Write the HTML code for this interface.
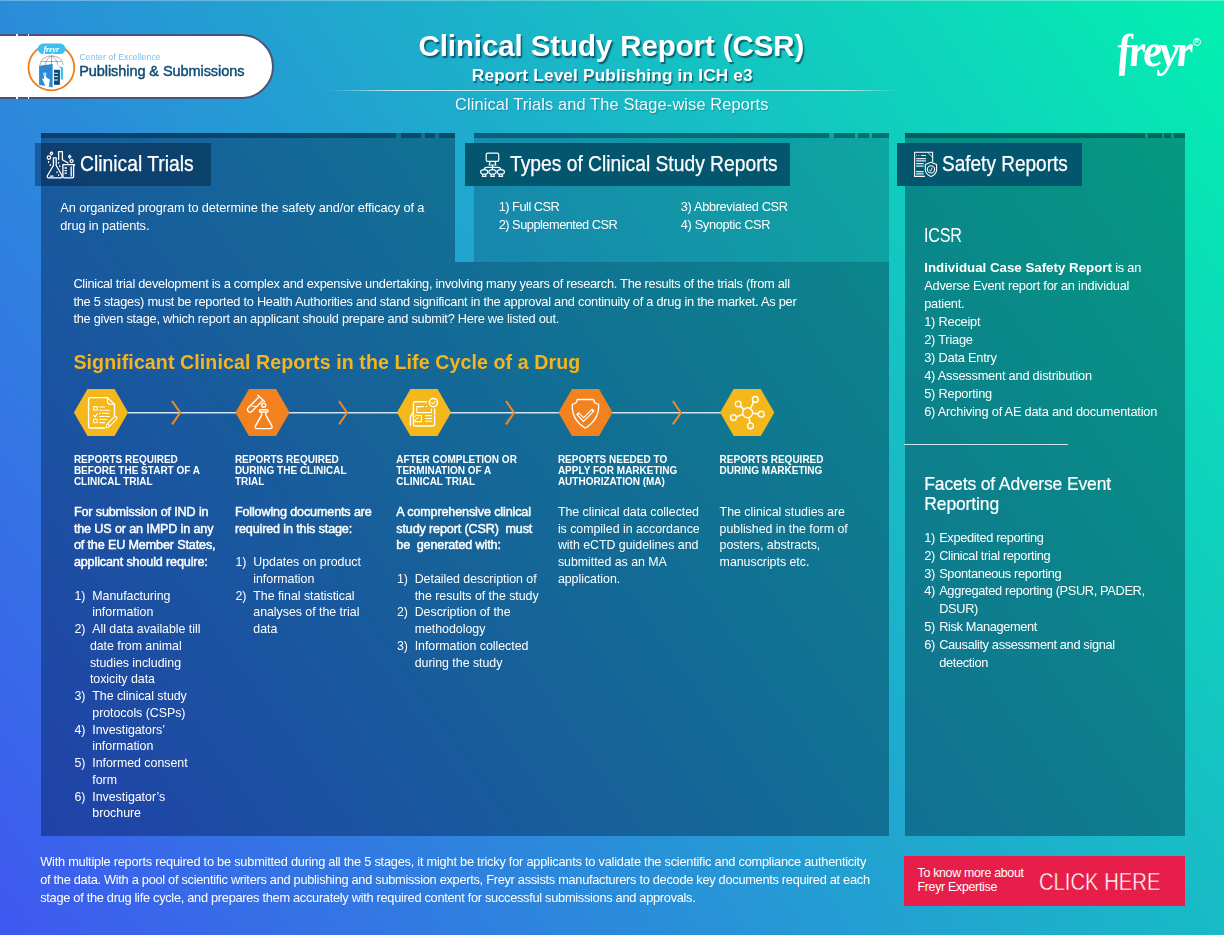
<!DOCTYPE html>
<html><head><meta charset="utf-8">
<style>
html,body{margin:0;padding:0}
body{width:1224px;height:935px;overflow:hidden;font-family:"Liberation Sans",Arial,sans-serif;color:#fff}
#pg{position:relative;width:1224px;height:935px;overflow:hidden;background:linear-gradient(54.8deg,#3f58f0 0%,#03f0b0 100%)}
.a{position:absolute}
.m1{position:absolute;background:#8aabb6;mix-blend-mode:multiply}
.m2{position:absolute;background:#bccfd6;mix-blend-mode:multiply}
.t{position:absolute;white-space:nowrap}
.hd{position:absolute;background:#04566f}
.ch{position:absolute;top:455.4px;font-size:10px;line-height:10.95px;font-weight:700;letter-spacing:0;white-space:nowrap}
.cb{position:absolute;top:503.9px;font-size:12.4px;line-height:16.75px;letter-spacing:-.03px;white-space:nowrap}
.cb b{font-weight:400;font-size:12.6px;letter-spacing:-.14px;-webkit-text-stroke:.45px #fff}
.li{position:relative;padding-left:18.4px}
.li i{font-style:normal;position:absolute;left:.6px}
.bl{height:16.75px}
.rl{position:relative;padding-left:15px}
.rl i{font-style:normal;position:absolute;left:0}
</style></head><body><div id="pg">
<!-- top light line -->
<div class="a" style="left:0;top:0;width:1224px;height:1px;background:rgba(255,255,255,.3)"></div>

<!-- panels (multiply layers) -->
<div class="m1" style="left:40.5px;top:133px;width:414.5px;height:129px"></div>
<div class="m1" style="left:40.5px;top:262px;width:848.5px;height:573.5px"></div>
<div class="m2" style="left:474px;top:133px;width:415px;height:129px"></div>
<div class="m1" style="left:905px;top:133px;width:280px;height:702.5px"></div>
<!-- top strips -->
<div class="m1" style="left:40.5px;top:133px;width:355.5px;height:4.7px"></div>
<div class="m1" style="left:401px;top:133px;width:20.3px;height:4.7px"></div>
<div class="m1" style="left:424.9px;top:133px;width:10.4px;height:4.7px"></div>
<div class="m1" style="left:438.9px;top:133px;width:16.1px;height:4.7px"></div>
<div class="m1" style="left:474px;top:133px;width:355.3px;height:4.7px"></div>
<div class="m1" style="left:834.1px;top:133px;width:20.7px;height:4.7px"></div>
<div class="m1" style="left:858px;top:133px;width:10.9px;height:4.7px"></div>
<div class="m1" style="left:871.9px;top:133px;width:16.9px;height:4.7px"></div>
<div class="m1" style="left:905px;top:133px;width:240px;height:4.7px"></div>
<div class="m1" style="left:1148px;top:133px;width:14px;height:4.7px"></div>
<div class="m1" style="left:1164px;top:133px;width:7.4px;height:4.7px"></div>
<div class="m1" style="left:1173.5px;top:133px;width:11.5px;height:4.7px"></div>
<!-- headers -->
<div class="m1" style="left:35.2px;top:143.1px;width:176.3px;height:42.8px"></div>
<div class="hd" style="left:465px;top:143px;width:324.5px;height:42.5px"></div>
<div class="hd" style="left:896.5px;top:143px;width:185.5px;height:42.8px"></div>

<!-- logo pill -->
<div class="a" style="left:-40px;top:34px;width:309.5px;height:61px;background:#fff;border:2px solid #4c5279;border-radius:0 32.5px 32.5px 0"></div>
<div class="a" style="left:16.1px;top:34px;width:1.9px;height:2px;background:#fff"></div>
<div class="a" style="left:27.8px;top:34px;width:1.7px;height:2px;background:#fff"></div>
<div class="a" style="left:16.1px;top:97px;width:1.9px;height:2px;background:#fff"></div>
<div class="a" style="left:27.8px;top:97px;width:1.7px;height:2px;background:#fff"></div>
<div class="t" style="left:79.5px;top:51.95px;font-size:8.8px;line-height:10px;color:#7cc0ec">Center of Excellence</div>
<div class="t" style="left:79.2px;top:62.5px;font-size:14.5px;line-height:16px;letter-spacing:-.07px;color:#0d4d76;-webkit-text-stroke:.45px #0d4d76">Publishing &amp; Submissions</div>

<svg class="a" style="left:25px;top:40px" width="54" height="54" viewBox="25 40 54 54">
 <circle cx="51.4" cy="67.5" r="22.9" fill="none" stroke="#f07c14" stroke-width="1.8"/>
 <rect x="37.9" y="43.5" width="27.5" height="10.4" rx="5.2" fill="#3cbef0"/>
 <text x="51.2" y="51.6" font-family="Liberation Serif" font-style="italic" font-weight="700" font-size="8.5" fill="#fff" text-anchor="middle" letter-spacing="-.3">freyr</text>
 <path d="M40 65 A11.6 9.2 0 0 1 63.2 65 M45.2 65 Q46.5 58 51.5 56 Q56.5 58 57.8 65 M51.5 56 V65 M41.2 61.5 H61.8" fill="none" stroke="#555" stroke-width=".45"/>
 <path d="M39.1 65.8 L52.8 64.1 L52.8 87.6 L39.1 84.8 Z" fill="#2a8ad6"/>
 <path d="M52.8 64.1 L58.4 65.8 L62.9 68 V79.7 L58.4 80 V84.8 L52.8 87.6 Z" fill="#fff"/>
 <path d="M58.4 65.8 L62.9 67.5 V79.7 L60.8 79.2 V68.6 Z" fill="#3cbef0"/>
 <rect x="54" y="69.8" width="5.9" height="15" fill="#0d4a75"/>
 <path d="M54 73.2 H58 M54 76.6 H58 M54 80 H58" stroke="#fff" stroke-width=".9"/>
 <circle cx="44.8" cy="74" r="1.8" fill="#a9d6f4"/>
 <path d="M44.1 75.4 L45.8 75.4 L46.3 77.4 L49.9 79.6 L48.7 87.6 L45.4 87.3 L45 85.2 L42 78.5 L43.9 79 Z" fill="#fff"/>
</svg>
<div class="t" style="left:1117.5px;top:26px;font-family:'Liberation Serif',serif;font-style:italic;font-weight:700;font-size:46px;line-height:50px;letter-spacing:-2.9px;transform:scaleX(.95) skewX(5deg);transform-origin:0 40px">freyr</div>
<div class="t" style="left:1192.8px;top:38px;width:6px;height:6px;border:.8px solid #fff;border-radius:50%;text-align:center;font-weight:700;font-size:4.6px;line-height:6px">R</div>

<!-- title -->
<div class="t" style="left:418.5px;top:30.77px;font-size:29.5px;line-height:30px;font-weight:700;letter-spacing:-.1px;text-shadow:1.6px 2.4px 1.2px rgba(0,58,80,.72)">Clinical Study Report (CSR)</div>
<div class="t" style="left:471.8px;top:65.64px;font-size:17.2px;line-height:18px;font-weight:700;letter-spacing:.18px;text-shadow:1.2px 1.8px 1px rgba(0,58,80,.65)">Report Level Publishing in ICH e3</div>
<div class="a" style="left:326px;top:90.2px;width:573px;height:1.2px;background:linear-gradient(90deg,rgba(255,255,255,0),rgba(255,255,255,.75) 12%,rgba(255,255,255,.7) 90%,rgba(255,255,255,0))"></div>
<div class="t" style="left:455px;top:95.11px;font-size:16.4px;line-height:18px;letter-spacing:.12px;color:rgba(255,255,255,.95);text-shadow:.8px 1px 1px rgba(0,58,80,.35)">Clinical Trials and The Stage-wise Reports</div>

<svg class="a" style="left:0;top:0" width="1224" height="935" viewBox="0 0 1224 935">
 <!-- header icon: flasks -->
 <g fill="none" stroke="#fff" stroke-width="1.3" stroke-linejoin="round" stroke-linecap="round">
  <path d="M58.6 159.5 V151.6 H62.4 V159.8 L68 163"/>
  <path d="M53.4 157.9 H56.2 V165.5 L62 175.5 Q62.6 177.9 60.2 177.9 H49.2 Q46.6 177.9 47.5 175.5 L53.4 165.5 Z"/>
  <path d="M62.9 164.6 H74.6 L73.6 166 V176.6 Q73.6 177.9 72.3 177.9 H64.3 Q62.9 177.9 62.9 176.6 Z"/>
  <path d="M65 168 H66.4 M65 170.6 H66.4 M65 173.2 H66.4 M71.2 167 V176"/>
  <circle cx="48.9" cy="157.6" r="1.7"/><circle cx="71.6" cy="161.1" r="1.5"/>
  <path d="M51.5 151.9 L52.8 153.4 L51.5 154.9 L50.2 153.4 Z M69.7 155.2 L70.9 156.6 L69.7 158 L68.5 156.6 Z"/>
  <path d="M48.6 161.6 V162.4 M50.3 164.6 V165.4 M58.6 162.4 V163 M59.8 166 V166.6 M57 172 V172.6 M58.6 175 V175.4 M50.4 176.2 H53"/>
 </g>
 <!-- header icon: network monitors -->
 <g fill="none" stroke="#fff" stroke-width="1.2" stroke-linejoin="round">
  <rect x="486.2" y="153.2" width="12.5" height="8.2" rx="1.6"/>
  <path d="M490 161.6 L489.2 165 H495.8 L495 161.6"/>
  <path d="M484.2 169.4 Q484.4 167.3 486.5 167.3 H498.3 Q500.6 167.3 500.8 169.4 M492.5 165 V169.4"/>
  <ellipse cx="484.2" cy="171.9" rx="3.6" ry="2.2"/><ellipse cx="492.5" cy="171.9" rx="3.6" ry="2.2"/><ellipse cx="500.8" cy="171.9" rx="3.6" ry="2.2"/>
  <path d="M483 174.2 L482.4 176.3 H486 L485.4 174.2 M491.3 174.2 L490.7 176.3 H494.3 L493.7 174.2 M499.6 174.2 L499 176.3 H502.6 L502 174.2"/>
 </g>
 <!-- header icon: safety document -->
 <g fill="none" stroke="#fff" stroke-width="1.1" stroke-linejoin="round">
  <path d="M925 176.4 H914.6 V152.3 H932.6 V162"/>
  <path d="M927.6 152.3 L932.6 157.3" stroke-width=".8"/>
  <path d="M916.2 155.5 H917 M918.4 155.5 H919.2 M921 155.5 H926 M916.2 158.6 H926 M916.2 160.8 H926 M916.2 163.7 H923.6 M916.2 166.2 H923.6 M916.2 171.6 H923.6 M916.2 173.8 H923.6" stroke="#dfe9ee" stroke-width="1.2"/>
  <path d="M931 162.3 L936.6 164.4 V170 Q936.2 174.4 931 176.6 Q925.8 174.4 925.3 170 V164.4 Z"/>
  <circle cx="931" cy="169.4" r="3.6"/>
  <path d="M929.6 169.8 L930.6 171.2 L932.2 167.6" stroke-width=".9"/>
 </g>

 <!-- timeline -->
 <line x1="128" y1="412.8" x2="721" y2="412.8" stroke="#d2e2f2" stroke-width="1.4"/>
 <g fill="none" stroke="#f38a22" stroke-width="2" stroke-linejoin="miter">
  <path d="M172.1 401 L180.2 412.8 L172.1 424.4"/>
  <path d="M339 401 L347.1 412.8 L339 424.4"/>
  <path d="M506 401 L514.1 412.8 L506 424.4"/>
  <path d="M672.8 401 L680.9 412.8 L672.8 424.4"/>
 </g>
 <g>
  <path d="M73.9 412.6 L87.45 389.1 H114.55 L128.1 412.6 L114.55 436.1 H87.45 Z" fill="#f5b81c"/>
  <path d="M235.4 412.6 L248.95 389.1 H276.05 L289.6 412.6 L276.05 436.1 H248.95 Z" fill="#f1821f"/>
  <path d="M396.9 412.6 L410.45 389.1 H437.55 L451.1 412.6 L437.55 436.1 H410.45 Z" fill="#f5b81c"/>
  <path d="M558.4 412.6 L571.95 389.1 H599.05 L612.6 412.6 L599.05 436.1 H571.95 Z" fill="#f1821f"/>
  <path d="M720.1 412.6 L733.65 389.1 H760.75 L774.3 412.6 L760.75 436.1 H733.65 Z" fill="#f5b81c"/>
 </g>
 <!-- hex icons -->
 <g fill="none" stroke="#fff" stroke-width="1.4" stroke-linejoin="round" stroke-linecap="round">
  <!-- 1 checklist -->
  <path d="M104.5 428 H90.2 Q88.6 428 88.6 426.4 V399.2 Q88.6 397.6 90.2 397.6 H107.4 L114.5 404.4 V415.2"/>
  <path d="M107.4 397.8 V401.6 Q107.6 404.2 110.2 404.2 H114.3" stroke-width="1.1"/>
  <rect x="93.5" y="406.6" width="3.8" height="3.6" rx=".6" stroke-width="1.1"/>
  <rect x="93.5" y="419.2" width="3.8" height="3.6" rx=".6" stroke-width="1.1"/>
  <path d="M93.6 415.4 L95.1 417 L97.3 413.6" stroke-width="1.1"/>
  <path d="M99.6 407 H104.6 M99.6 410.2 H101.6 M103 410.2 H109.4 M99.6 413.3 H100.6 M102.2 413.3 H108.6 M99.6 416.4 H103.8 M105 416.4 H109.4 M99.6 419.5 H106.6 M99.6 422.6 H104.6" stroke-width="1.05"/>
  <path d="M106.2 427.8 L106.6 424.6 L114.3 416.9 Q115.5 415.9 116.6 417 Q117.6 418.1 116.6 419.2 L109 426.9 Z M107.6 423.8 L109.8 426" stroke-width="1.1"/>
  <!-- 2 lab -->
  <path d="M257.9 395.2 L264.6 401.6 M263 400.2 L252 411.2 Q249.9 413.1 248.2 411.4 Q246.5 409.7 248.4 407.6 L259.4 396.6"/>
  <path d="M251.5 406 L256.5 406.6" stroke-width="1"/>
  <circle cx="263.7" cy="405.2" r="2"/>
  <rect x="259.4" y="409.8" width="8.6" height="2.2" rx="1"/>
  <path d="M261.6 412.2 V415.2 L255.6 425.6 Q254.4 428.6 257.2 428.6 H270.2 Q273 428.6 271.8 425.6 L265.8 415.2 V412.2"/>
  <!-- 3 report -->
  <path d="M426.4 401.8 H415.4 Q413.4 401.8 413.4 403.8 V424 Q413.4 426 415.4 426 H432.6 Q434.6 426 434.6 424 V416.8 M434.6 415 V409"/>
  <path d="M410.4 425.6 V416.8 L413.2 412"/>
  <circle cx="433.4" cy="402.6" r="4.1"/>
  <path d="M431.7 402.6 L432.9 403.8 L435 401.6" stroke-width="1.05"/>
  <path d="M423.6 406.6 H416.8 V412.6 H431.4 V409" stroke-width="1.1"/>
  <path d="M426.2 406.6 H426.8" stroke-width="1"/>
  <path d="M414.8 416.4 Q415.4 415.4 416.8 415.4 H421.4 V421.6 H414.8 Q414.8 419.2 417 418.4 L418.6 417.6" stroke-width="1.05"/>
  <path d="M425.4 415.6 H431.8 M425.4 418.4 H431.8 M425.4 421.3 H431.8" stroke-width="1.05"/>
  <!-- 4 shield -->
  <path d="M577.2 399.5 H593.6 Q593.8 403.6 598.6 404.2 Q599.6 419 585.3 428.2 Q571 419 572.4 404.2 Q577 403.6 577.2 399.5 Z" stroke-width="1.3"/>
  <path d="M578.6 414.6 L583.5 419.6 L592.1 411" stroke-width="3.6" stroke-linecap="square" stroke-linejoin="miter"/>
  <path d="M578.6 414.6 L583.5 419.6 L592.1 411" stroke="#f1821f" stroke-width="1.4" stroke-linecap="butt" stroke-linejoin="miter"/>
  <!-- 5 network -->
  <circle cx="747.6" cy="412.7" r="5"/>
  <circle cx="738.2" cy="404" r="2.9"/><circle cx="755.3" cy="399.4" r="2.9"/><circle cx="761.2" cy="414.2" r="2.9"/>
  <circle cx="750.5" cy="425.8" r="2.9"/><circle cx="733.5" cy="417.6" r="2.9"/>
  <path d="M740.5 406.3 L743.8 409.4 M753.6 402 L750.6 408.4 M758.3 413.9 L752.6 413.2 M750 422.9 L749 417.7 M736.3 416.8 L742.8 414.4" stroke-width="1.6"/>
 </g>
</svg>

<!-- section headers -->
<div class="t" style="left:80px;top:153.22px;font-size:21.3px;line-height:22px;transform:scaleX(.907);transform-origin:0 0;-webkit-text-stroke:.25px #fff">Clinical Trials</div>
<div class="t" style="left:509.6px;top:153.22px;font-size:21.3px;line-height:22px;transform:scaleX(.904);transform-origin:0 0;-webkit-text-stroke:.25px #fff">Types of Clinical Study Reports</div>
<div class="t" style="left:941.8px;top:153.22px;font-size:21.3px;line-height:22px;transform:scaleX(.893);transform-origin:0 0;-webkit-text-stroke:.25px #fff">Safety Reports</div>

<div class="t" style="left:60.3px;top:198.9px;font-size:12.8px;line-height:17.7px;letter-spacing:-.12px">An organized program to determine the safety and/or efficacy of a<br>drug in patients.</div>

<div class="t" style="left:498.7px;top:197.5px;font-size:12.8px;line-height:18.2px;letter-spacing:-.5px">1) Full CSR<br>2) Supplemented CSR</div>
<div class="t" style="left:680.8px;top:197.5px;font-size:12.8px;line-height:18.2px;letter-spacing:-.35px">3) Abbreviated CSR<br>4) Synoptic CSR</div>

<div class="t" style="left:73.4px;top:275.4px;font-size:12.8px;line-height:17.55px;letter-spacing:-.275px">Clinical trial development is a complex and expensive undertaking, involving many years of research. The results of the trials (from all<br><span style="letter-spacing:-.252px">the 5 stages) must be reported to Health Authorities and stand significant in the approval and continuity of a drug in the market. As per</span><br><span style="letter-spacing:-.25px">the given stage, which report an applicant should prepare and submit? Here we listed out.</span></div>

<div class="t" style="left:73.4px;top:350.7px;font-size:19.6px;line-height:22px;font-weight:700;letter-spacing:.09px;color:#f6b41e">Significant Clinical Reports in the Life Cycle of a Drug</div>

<!-- column headings -->
<div class="ch" style="left:73.9px">REPORTS REQUIRED<br>BEFORE THE START OF A<br>CLINICAL TRIAL</div>
<div class="ch" style="left:234.9px">REPORTS REQUIRED<br>DURING THE CLINICAL<br>TRIAL</div>
<div class="ch" style="left:396.3px">AFTER COMPLETION OR<br>TERMINATION OF A<br>CLINICAL TRIAL</div>
<div class="ch" style="left:557.9px">REPORTS NEEDED TO<br>APPLY FOR MARKETING<br>AUTHORIZATION (MA)</div>
<div class="ch" style="left:719.6px">REPORTS REQUIRED<br>DURING MARKETING</div>

<!-- column bodies -->
<div class="cb" style="left:73.9px">
<b>For submission of IND in<br>the US or an IMPD in any<br>of the EU Member States,<br>applicant should require:</b>
<div class="bl"></div>
<div class="li"><i>1)</i>Manufacturing<br>information</div>
<div class="li"><i>2)</i>All data available till<br><span style="margin-left:-2.4px">date from animal</span><br><span style="margin-left:-2.4px">studies including</span><br><span style="margin-left:-2.4px">toxicity data</span></div>
<div class="li"><i>3)</i>The clinical study<br>protocols (CSPs)</div>
<div class="li"><i>4)</i>Investigators’<br>information</div>
<div class="li"><i>5)</i>Informed consent<br>form</div>
<div class="li"><i>6)</i>Investigator’s<br>brochure</div>
</div>
<div class="cb" style="left:234.9px">
<b>Following documents are<br>required in this stage:</b>
<div class="bl"></div>
<div class="li"><i>1)</i>Updates on product<br>information</div>
<div class="li"><i>2)</i>The final statistical<br>analyses of the trial<br>data</div>
</div>
<div class="cb" style="left:396.3px">
<b>A comprehensive clinical<br>study report (CSR)&nbsp; must<br>be&nbsp; generated with:</b>
<div class="bl"></div>
<div class="li"><i>1)</i>Detailed description of<br>the results of the study</div>
<div class="li"><i>2)</i>Description of the<br>methodology</div>
<div class="li"><i>3)</i>Information collected<br>during the study</div>
</div>
<div class="cb" style="left:557.9px">The clinical data collected<br>is compiled in accordance<br>with eCTD guidelines and<br>submitted as an MA<br>application.</div>
<div class="cb" style="left:719.6px">The clinical studies are<br>published in the form of<br>posters, abstracts,<br>manuscripts etc.</div>

<!-- right panel -->
<div class="t" style="left:924.4px;top:223.9px;font-size:20.2px;line-height:22px;letter-spacing:-.3px;transform:scaleX(.8);transform-origin:0 0">ICSR</div>
<div class="t" style="left:924.2px;top:259.1px;font-size:12.8px;line-height:18px;letter-spacing:-.22px"><b style="font-size:13.3px;letter-spacing:0">Individual Case Safety Report</b> is an<br>Adverse Event report for an individual<br>patient.<br>1) Receipt<br>2) Triage<br>3) Data Entry<br>4) Assessment and distribution<br>5) Reporting<br>6) Archiving of AE data and documentation</div>
<div class="a" style="left:904.3px;top:443.5px;width:164.2px;height:1.2px;background:rgba(235,245,250,.85)"></div>
<div class="t" style="left:924.3px;top:475.3px;font-size:17.5px;line-height:19.7px;letter-spacing:-.13px;-webkit-text-stroke:.2px #fff">Facets of Adverse Event<br>Reporting</div>
<div class="t" style="left:924.2px;top:528.8px;font-size:12.8px;line-height:17.86px;letter-spacing:-.35px">
<div class="rl"><i>1)</i>Expedited reporting</div>
<div class="rl"><i>2)</i>Clinical trial reporting</div>
<div class="rl"><i>3)</i>Spontaneous reporting</div>
<div class="rl"><i>4)</i>Aggregated reporting (PSUR, PADER,<br>DSUR)</div>
<div class="rl"><i>5)</i>Risk Management</div>
<div class="rl"><i>6)</i>Causality assessment and signal<br>detection</div>
</div>

<!-- footer -->
<div class="t" style="left:40.2px;top:853.41px;font-size:12.8px;line-height:17.7px;letter-spacing:-.29px"><span style="letter-spacing:-.235px">With multiple reports required to be submitted during all the 5 stages, it might be tricky for applicants to validate the scientific and compliance authenticity</span><br>of the data. With a pool of scientific writers and publishing and submission experts, Freyr assists manufacturers to decode key documents required at each<br>stage of the drug life cycle, and prepares them accurately with required content for successful submissions and approvals.</div>

<!-- CTA -->
<div class="a" style="left:904.2px;top:855.7px;width:280.8px;height:50px;background:#e71e49"></div>
<div class="t" style="left:917.5px;top:865.85px;font-size:12.4px;line-height:14.5px;letter-spacing:-.3px">To know more about<br>Freyr Expertise</div>
<div class="t" style="left:1038.6px;top:869.63px;font-size:23px;line-height:24px;transform:scaleX(.88);transform-origin:0 0;-webkit-text-stroke:.45px #e71e49;paint-order:fill stroke">CLICK HERE</div>

</div></body></html>
